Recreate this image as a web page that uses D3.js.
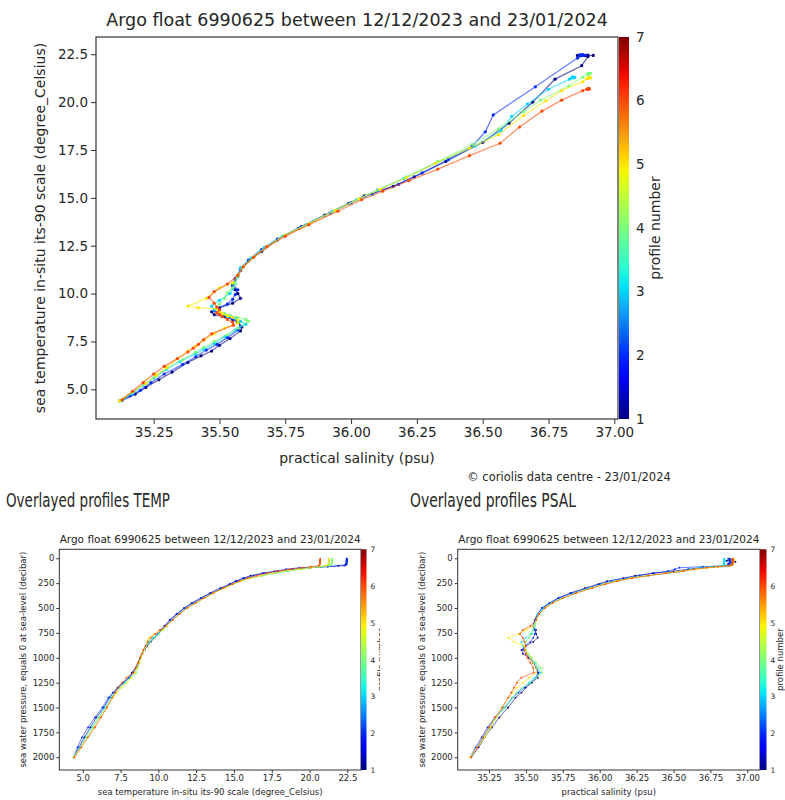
<!DOCTYPE html>
<html>
<head>
<meta charset="utf-8">
<script src="https://cdn.jsdelivr.net/npm/d3@7"></script>
<style>
  body { margin: 0; background: #fff; }
  text { font-family: "DejaVu Sans", sans-serif; fill: #262626; }
</style>
</head>
<body>
<div id="chart"></div>
<script>
// Argo float 6990625 - six profiles
var profileNumbers = [1, 2, 3, 4, 5, 6];

// pressure levels (decibar), shared by all profiles
var PRES = [5, 15, 25, 35, 45, 55, 65, 75, 85, 95,
  110, 130, 150, 175, 200, 230, 260, 300, 350, 400,
  450, 500, 560, 620, 680, 720, 760, 800, 840, 880,
  920, 960, 1000, 1050, 1100, 1150, 1200, 1250, 1300, 1350,
  1400, 1500, 1600, 1700, 1800, 1900, 2000];

// sea temperature (degree_Celsius)
var temp1 = [22.45, 22.45, 22.44, 22.44, 22.43, 22.42, 22.38, 21.9, 21.2, 20.0,
  18.9, 17.9, 16.9, 16.1, 15.6, 15.1, 14.7, 14.1, 13.4, 12.8,
  12.2, 11.7, 11.2, 10.75, 10.4, 10.2, 10.0, 9.75, 9.5, 9.25,
  9.05, 8.9, 8.8, 8.65, 8.5, 8.25, 8.05, 7.65, 7.3, 7.0,
  6.75, 6.4, 5.9, 5.5, 5.1, 4.75, 4.42];
var temp2 = [22.48, 22.47, 22.47, 22.46, 22.45, 22.45, 22.44, 22.3, 20.8, 19.33,
  18.45, 17.7, 17.0, 16.3, 15.7, 15.2, 14.75, 14.2, 13.5, 12.85,
  12.3, 11.75, 11.25, 10.8, 10.45, 10.2, 9.95, 9.7, 9.45, 9.25,
  9.1, 8.95, 8.8, 8.7, 8.55, 8.3, 8.1, 7.7, 7.35, 7.05,
  6.7, 6.3, 5.8, 5.35, 4.95, 4.65, 4.4];
var temp3 = [21.3, 21.3, 21.29, 21.29, 21.28, 21.28, 21.27, 21.2, 20.67, 19.9,
  19.25, 18.5, 17.7, 16.8, 16.0, 15.4, 14.9, 14.3, 13.6, 13.0,
  12.4, 11.85, 11.35, 10.9, 10.5, 10.25, 10.0, 9.65, 9.35, 9.15,
  9.05, 8.9, 8.8, 8.7, 8.55, 8.4, 8.1, 7.75, 7.4, 7.1,
  6.85, 6.45, 6.05, 5.6, 5.2, 4.8, 4.42];
var temp4 = [21.5, 21.5, 21.49, 21.49, 21.48, 21.47, 21.45, 21.3, 20.84, 20.1,
  19.5, 18.6, 17.8, 16.9, 16.1, 15.45, 14.95, 14.35, 13.65, 13.05,
  12.45, 11.9, 11.4, 10.95, 10.55, 10.3, 10.05, 9.75, 9.45, 9.2,
  9.05, 8.95, 8.85, 8.75, 8.65, 8.55, 8.2, 7.85, 7.5, 7.2,
  6.95, 6.55, 6.1, 5.7, 5.3, 4.85, 4.38];
var temp5 = [21.28, 21.28, 21.27, 21.27, 21.26, 21.25, 21.22, 21.07, 20.6, 20.07,
  19.3, 18.3, 17.6, 16.8, 16.05, 15.45, 14.95, 14.35, 13.65, 13.05,
  12.45, 11.9, 11.4, 10.95, 10.55, 10.3, 9.75, 9.35, 9.25, 9.2,
  9.05, 8.95, 8.85, 8.75, 8.6, 8.45, 8.2, 7.9, 7.55, 7.25,
  7.0, 6.6, 6.15, 5.75, 5.3, 4.9, 4.4];
var temp6 = [20.7, 20.7, 20.69, 20.69, 20.68, 20.68, 20.67, 20.6, 20.1, 19.53,
  18.7, 17.85, 17.2, 16.5, 15.9, 15.35, 14.9, 14.3, 13.6, 13.0,
  12.45, 11.9, 11.4, 10.95, 10.5, 10.1, 9.8, 9.5, 9.3, 9.15,
  9.0, 8.9, 8.8, 8.65, 8.5, 8.35, 7.9, 7.6, 7.35, 7.15,
  6.95, 6.6, 6.2, 5.8, 5.35, 4.9, 4.45];

// practical salinity (psu)
var psal1 = [36.88, 36.90, 36.86, 36.92, 36.89, 36.87, 36.90, 36.876, 36.775, 36.69,
  36.60, 36.50, 36.36, 36.24, 36.16, 36.05, 35.99, 35.90, 35.80, 35.72,
  35.66, 35.61, 35.58, 35.56, 35.55, 35.56, 35.57, 35.58, 35.55, 35.50,
  35.47, 35.48, 35.52, 35.55, 35.57, 35.585, 35.58, 35.54, 35.50, 35.47,
  35.43, 35.38, 35.32, 35.27, 35.22, 35.18, 35.13];
var psal2 = [36.87, 36.88, 36.88, 36.89, 36.88, 36.87, 36.88, 36.86, 36.70, 36.54,
  36.51, 36.46, 36.37, 36.27, 36.18, 36.08, 36.00, 35.92, 35.81, 35.72,
  35.66, 35.61, 35.58, 35.56, 35.55, 35.57, 35.56, 35.55, 35.53, 35.49,
  35.48, 35.50, 35.53, 35.55, 35.57, 35.58, 35.57, 35.53, 35.49, 35.45,
  35.41, 35.36, 35.29, 35.24, 35.20, 35.16, 35.12];
var psal3 = [36.845, 36.84, 36.85, 36.84, 36.845, 36.84, 36.845, 36.83, 36.75, 36.67,
  36.61, 36.57, 36.47, 36.32, 36.20, 36.10, 36.02, 35.93, 35.83, 35.74,
  35.67, 35.62, 35.58, 35.57, 35.56, 35.55, 35.54, 35.50, 35.47, 35.48,
  35.50, 35.51, 35.53, 35.56, 35.58, 35.60, 35.56, 35.52, 35.48, 35.44,
  35.41, 35.35, 35.30, 35.25, 35.21, 35.17, 35.13];
var psal4 = [36.905, 36.91, 36.905, 36.90, 36.905, 36.90, 36.90, 36.88, 36.826, 36.72,
  36.655, 36.56, 36.46, 36.33, 36.21, 36.11, 36.03, 35.94, 35.84, 35.75,
  35.68, 35.63, 35.59, 35.57, 35.56, 35.55, 35.53, 35.52, 35.50, 35.49,
  35.50, 35.52, 35.54, 35.57, 35.60, 35.61, 35.57, 35.53, 35.48, 35.44,
  35.41, 35.36, 35.30, 35.26, 35.22, 35.17, 35.12];
var psal5 = [36.91, 36.905, 36.91, 36.90, 36.905, 36.90, 36.895, 36.88, 36.80, 36.74,
  36.655, 36.56, 36.45, 36.32, 36.21, 36.11, 36.03, 35.94, 35.84, 35.75,
  35.68, 35.63, 35.59, 35.57, 35.55, 35.50, 35.45, 35.38, 35.42, 35.49,
  35.50, 35.51, 35.53, 35.55, 35.57, 35.57, 35.52, 35.48, 35.44, 35.41,
  35.38, 35.34, 35.30, 35.26, 35.22, 35.17, 35.12];
var psal6 = [36.90, 36.905, 36.90, 36.905, 36.90, 36.90, 36.895, 36.88, 36.80, 36.725,
  36.64, 36.566, 36.45, 36.33, 36.22, 36.12, 36.04, 35.95, 35.84, 35.75,
  35.68, 35.63, 35.59, 35.57, 35.53, 35.48, 35.46, 35.48, 35.49, 35.50,
  35.49, 35.50, 35.51, 35.53, 35.55, 35.553, 35.47, 35.44, 35.42, 35.40,
  35.38, 35.34, 35.29, 35.25, 35.21, 35.17, 35.13];

// tick labels
var tempTicks = [5.0, 7.5, 10.0, 12.5, 15.0, 17.5, 20.0, 22.5];
var psalTicks = [35.25, 35.50, 35.75, 36.00, 36.25, 36.50, 36.75, 37.00];
var presTicks = [0, 250, 500, 750, 1000, 1250, 1500, 1750, 2000];
var cbarTicks = [1, 2, 3, 4, 5, 6, 7];

var titleText = "Argo float 6990625 between 12/12/2023 and 23/01/2024";

var temps = [temp1, temp2, temp3, temp4, temp5, temp6];
var psals = [psal1, psal2, psal3, psal4, psal5, psal6];

var profiles = profileNumbers.map(function (n, i) {
  return {
    id: n,
    points: PRES.map(function (p, j) {
      return { pres: p, temp: temps[i][j], psal: psals[i][j] };
    }),
  };
});

// matplotlib "jet" colormap, profile number 1..7
var jetR = d3.scaleLinear().domain([0, 0.35, 0.66, 0.89, 1]).range([0, 0, 1, 1, 0.5]).clamp(true);
var jetG = d3.scaleLinear().domain([0, 0.125, 0.375, 0.64, 0.91, 1]).range([0, 0, 1, 1, 0, 0]).clamp(true);
var jetB = d3.scaleLinear().domain([0, 0.11, 0.34, 0.65, 1]).range([0.5, 1, 1, 0, 0]).clamp(true);
var cNorm = d3.scaleLinear().domain([1, 7]).range([0, 1]);
function jet(v) {
  var t = cNorm(v);
  return d3.rgb(jetR(t) * 255, jetG(t) * 255, jetB(t) * 255).formatHex();
}

var svg = d3.select("#chart").append("svg").attr("width", 785).attr("height", 800);
var defs = svg.append("defs");

function drawPanel(cfg) {
  var g = svg.append("g").attr("transform", `translate(${cfg.left}, ${cfg.top})`);

  var x = d3.scaleLinear().domain(cfg.xDomain).range([0, cfg.width]);
  var y = d3.scaleLinear().domain(cfg.yDomain).range([cfg.height, 0]);

  defs.append("clipPath").attr("id", cfg.id + "-clip")
    .append("rect").attr("width", cfg.width).attr("height", cfg.height);

  var plot = g.append("g").attr("clip-path", `url(#${cfg.id}-clip)`);

  var line = d3.line()
    .x((d) => x(d[cfg.xKey]))
    .y((d) => y(d[cfg.yKey]));

  profiles.forEach(function (prof) {
    var col = jet(prof.id);
    plot.append("path")
      .datum(prof.points)
      .attr("d", line)
      .attr("fill", "none")
      .attr("stroke", col)
      .attr("stroke-width", cfg.lineWidth)
      .attr("stroke-opacity", cfg.lineOpacity);
    plot.append("g")
      .selectAll("circle")
      .data(prof.points)
      .enter()
      .append("circle")
      .attr("cx", (d) => x(d[cfg.xKey]))
      .attr("cy", (d) => y(d[cfg.yKey]))
      .attr("r", cfg.dot)
      .attr("fill", col);
  });

  // axes
  var bottomAxis = d3.axisBottom(x).tickValues(cfg.xTicks)
    .tickFormat(d3.format(cfg.xFormat)).tickSize(cfg.tick).tickPadding(cfg.pad);
  var leftAxis = d3.axisLeft(y).tickValues(cfg.yTicks)
    .tickFormat(d3.format(cfg.yFormat)).tickSize(cfg.tick).tickPadding(cfg.pad);

  var xg = g.append("g").attr("transform", `translate(0, ${cfg.height})`).call(bottomAxis);
  var yg = g.append("g").call(leftAxis);
  [xg, yg].forEach(function (a) {
    a.select(".domain").remove();
    a.selectAll("line").attr("stroke", "#333");
    a.selectAll("text").attr("font-size", cfg.tickFont).attr("font-family", "DejaVu Sans").attr("fill", "#262626");
  });

  // frame
  g.append("rect")
    .attr("width", cfg.width).attr("height", cfg.height)
    .attr("fill", "none").attr("stroke", "#333").attr("stroke-width", cfg.frame);

  // colour bar
  var gid = cfg.id + "-grad";
  var grad = defs.append("linearGradient").attr("id", gid)
    .attr("x1", 0).attr("y1", 1).attr("x2", 0).attr("y2", 0);
  d3.range(0, 1.0001, 0.05).forEach(function (t) {
    grad.append("stop").attr("offset", t).attr("stop-color", jet(cNorm.invert(t)));
  });
  var cb = g.append("g").attr("transform", `translate(${cfg.width + cfg.cbGap}, 0)`);
  cb.append("rect").attr("width", cfg.cbWidth).attr("height", cfg.height).attr("fill", `url(#${gid})`);
  var cScale = d3.scaleLinear().domain([1, 7]).range([cfg.height, 0]);
  var cg = cb.append("g").attr("transform", `translate(${cfg.cbWidth}, 0)`)
    .call(d3.axisRight(cScale).tickValues(cbarTicks).tickFormat(d3.format("d")).tickSize(cfg.cbTick).tickPadding(cfg.cbPad));
  cg.select(".domain").remove();
  cg.selectAll("line").attr("stroke", "#333");
  cg.selectAll("text").attr("font-size", cfg.cbFont).attr("font-family", "DejaVu Sans").attr("fill", "#262626");

  // colour bar label (the left image is cut at its right edge)
  var labelHolder = g.append("g");
  if (cfg.cbClip) {
    defs.append("clipPath").attr("id", cfg.id + "-cbclip")
      .append("rect").attr("x", 0).attr("y", 0).attr("width", cfg.cbClip).attr("height", cfg.height);
    labelHolder.attr("clip-path", `url(#${cfg.id}-cbclip)`);
  }
  labelHolder.append("text")
    .attr("transform", `translate(${cfg.width + cfg.cbLabelX}, ${cfg.height / 2}) rotate(-90)`)
    .attr("text-anchor", "middle")
    .attr("dy", "0.35em")
    .attr("font-size", cfg.labelFont)
    .text("profile number");

  // title and axis labels
  g.append("text")
    .attr("x", cfg.width / 2).attr("y", cfg.titleY)
    .attr("text-anchor", "middle")
    .attr("font-size", cfg.titleFont)
    .text(titleText);

  g.append("text")
    .attr("x", cfg.width / 2).attr("y", cfg.height + cfg.xLabelY)
    .attr("text-anchor", "middle")
    .attr("font-size", cfg.labelFont)
    .text(cfg.xLabel);

  g.append("text")
    .attr("transform", `translate(${cfg.yLabelX}, ${cfg.height / 2}) rotate(-90)`)
    .attr("text-anchor", "middle")
    .attr("dy", "0.35em")
    .attr("font-size", cfg.labelFont)
    .text(cfg.yLabel);
}

// T-S diagram
drawPanel({
  id: "ts", left: 96, top: 37, width: 522, height: 382,
  xDomain: [35.031, 37.014], yDomain: [3.45, 23.40],
  xKey: "psal", yKey: "temp",
  xTicks: psalTicks, yTicks: tempTicks, xFormat: ".2f", yFormat: ".1f",
  lineWidth: 1.3, lineOpacity: 0.6, dot: 1.6,
  tick: 5, pad: 3, tickFont: 13.5, labelFont: 14, titleFont: 17.5, frame: 1.2,
  cbGap: 1, cbWidth: 10, cbTick: 0, cbPad: 7, cbFont: 13.5, cbLabelX: 37,
  titleY: -11, xLabelY: 44, yLabelX: -56,
  xLabel: "practical salinity (psu)",
  yLabel: "sea temperature in-situ its-90 scale (degree_Celsius)",
});

// temperature profiles
drawPanel({
  id: "tp", left: 59.3, top: 549.3, width: 301.7, height: 220.7,
  xDomain: [3.45, 23.4], yDomain: [2128, -90],
  xKey: "temp", yKey: "pres",
  xTicks: tempTicks, yTicks: presTicks, xFormat: ".1f", yFormat: "d",
  lineWidth: 1, lineOpacity: 0.6, dot: 0.9,
  tick: 3, pad: 2, tickFont: 8.5, labelFont: 8.5, titleFont: 10.5, frame: 1,
  cbGap: 0, cbWidth: 5.5, cbTick: 0, cbPad: 4, cbFont: 7.5, cbLabelX: 20, cbClip: 320.7,
  titleY: -6, xLabelY: 25, yLabelX: -36,
  xLabel: "sea temperature in-situ its-90 scale (degree_Celsius)",
  yLabel: "sea water pressure, equals 0 at sea-level (decibar)",
});

// salinity profiles
drawPanel({
  id: "sp", left: 457.7, top: 549.3, width: 302.3, height: 220.7,
  xDomain: [35.038, 37.086], yDomain: [2128, -90],
  xKey: "psal", yKey: "pres",
  xTicks: psalTicks, yTicks: presTicks, xFormat: ".2f", yFormat: "d",
  lineWidth: 1, lineOpacity: 0.6, dot: 0.9,
  tick: 3, pad: 2, tickFont: 8.5, labelFont: 8.5, titleFont: 10.5, frame: 1,
  cbGap: 0, cbWidth: 6.5, cbTick: 0, cbPad: 4, cbFont: 7.5, cbLabelX: 20.3,
  titleY: -6, xLabelY: 25, yLabelX: -36,
  xLabel: "practical salinity (psu)",
  yLabel: "sea water pressure, equals 0 at sea-level (decibar)",
});

// credits and section headings
svg.append("text")
  .attr("x", 569).attr("y", 481)
  .attr("text-anchor", "middle")
  .attr("font-family", "Roboto")
  .attr("font-size", 11.5)
  .attr("fill", "#444")
  .text("\u00a9 coriolis data centre - 23/01/2024");

svg.append("text")
  .attr("x", 6).attr("y", 507)
  .attr("font-family", "Noto Sans")
  .attr("font-size", 20)
  .attr("textLength", 164)
  .attr("lengthAdjust", "spacingAndGlyphs")
  .attr("fill", "#1a1a1a")
  .text("Overlayed profiles TEMP");

svg.append("text")
  .attr("x", 410).attr("y", 507)
  .attr("font-family", "Noto Sans")
  .attr("font-size", 20)
  .attr("textLength", 166)
  .attr("lengthAdjust", "spacingAndGlyphs")
  .attr("fill", "#1a1a1a")
  .text("Overlayed profiles PSAL");
</script>
</body>
</html>
